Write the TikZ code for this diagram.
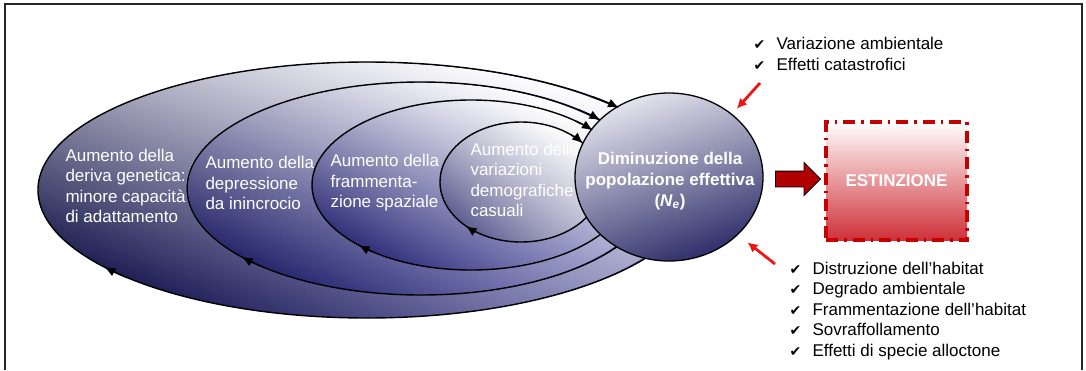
\documentclass[tikz,border=0pt]{standalone}
\usepackage{fontspec}
\setmainfont{Liberation Sans}
\newfontfamily\chkfont{DejaVu Sans}
\usetikzlibrary{shapes.geometric,shapes.arrows,arrows.meta,calc,fadings}
\definecolor{navyA}{HTML}{141448}
\definecolor{navyB}{HTML}{1C1C62}
\definecolor{navyC}{HTML}{262672}
\definecolor{navyD}{HTML}{54548A}
\definecolor{midA}{HTML}{5A5AA6}
\definecolor{midB}{HTML}{5A5AA8}
\definecolor{midC}{HTML}{6060AA}
\definecolor{midD}{HTML}{9494B8}
\definecolor{ballTop}{HTML}{E4E4EE}
\definecolor{ballMid}{HTML}{8686B0}
\definecolor{ballBot}{HTML}{2E2E6A}
\definecolor{extRed}{HTML}{C40000}
\definecolor{extFill}{HTML}{CF3038}
\definecolor{arrRed}{HTML}{B00000}
\definecolor{hintRed}{HTML}{F01414}
\tikzfading[name=glow, top color=transparent!0, middle color=transparent!65, bottom color=transparent!100]
\newcommand{\chk}{\makebox[23pt][l]{\chkfont\fontsize{14}{14}\selectfont ✔}}
\tikzset{
  ring/.style 2 args={left color=#1, right color=#2, postaction={fill=white, path fading=glow, fading angle=-35}, postaction={draw=black, line width=1.4pt}},
  ringtip/.style={draw=black, line width=1.4pt, -{Latex[length=11pt,width=9pt]}},
  lbl/.style={anchor=west, align=left, text=white, font=\fontsize{17}{20.5}\selectfont},
  lst/.style={anchor=west, align=left, font=\fontsize{17}{20.5}\selectfont},
  redarr/.style={draw=hintRed, line width=2.8pt, -{Latex[length=10pt,width=10pt]}},
}
\begin{document}
\begin{tikzpicture}[x=1pt,y=1pt]
\useasboundingbox (0,0) rectangle (1086,-370);
\draw[line width=1.6pt, black!85] (5,-370) |- (1082,-4) -- (1082,-370);
\path[ring={navyA}{midA}] (367,-190) ellipse [x radius=329, y radius=128];
\path[ring={navyB}{midB}] (421,-188.5) ellipse [x radius=234, y radius=106.5];
\path[ring={navyC}{midC}] (471,-185) ellipse [x radius=159, y radius=85];
\path[ring={navyD}{midD}] (521,-182) ellipse [x radius=81, y radius=60];
\draw[ringtip] (367,-190) ++(223:329 and 128) arc[start angle=223, end angle=217, x radius=329, y radius=128];
\draw[ringtip] (421,-188.5) ++(227:234 and 106.5) arc[start angle=227, end angle=220, x radius=234, y radius=106.5];
\draw[ringtip] (471,-185) ++(232:159 and 85) arc[start angle=232, end angle=225, x radius=159, y radius=85];
\draw[ringtip] (521,-182) ++(236:81 and 60) arc[start angle=236, end angle=227, x radius=81, y radius=60];
\node[lbl] (t1) at (62,-186) {Aumento della\\deriva genetica:\\minore capacità\\di adattamento};
\node[lbl] (t2) at (202,-183) {Aumento della\\depressione\\da inincrocio};
\node[lbl] (t3) at (327,-183) {Aumento della\\frammenta-\\zione spaziale};
\node[lbl] (t4) at (467,-180) {Aumento delle\\variazioni\\demografiche\\casuali};
\node[ellipse, draw=black, line width=1.3pt, minimum width=188pt, minimum height=168pt, inner sep=0pt, top color=ballTop, middle color=ballMid, bottom color=ballBot, shading angle=20] (ne) at (669,-177) {};
\node[align=center, text=white, font=\bfseries\fontsize{17}{21}\selectfont] (net) at (670,-181) {Diminuzione della\\popolazione effettiva\\(\textit{N}\textsubscript{\textit{e}})};
\draw[ringtip] (367,-190) ++(47:329 and 128) arc[start angle=47, end angle=40, x radius=329, y radius=128];
\draw[ringtip] (421,-188.5) ++(48:234 and 106.5) arc[start angle=48, end angle=40, x radius=234, y radius=106.5];
\draw[ringtip] (471,-185) ++(49:159 and 85) arc[start angle=49, end angle=40, x radius=159, y radius=85];
\draw[ringtip] (521,-182) ++(52:81 and 60) arc[start angle=52, end angle=40, x radius=81, y radius=60];
\node[draw=extRed, line width=3.2pt, dash pattern=on 12pt off 6pt on 2.5pt off 6pt, top color=white, bottom color=extFill, minimum width=141pt, minimum height=118pt, text=white, font=\bfseries\fontsize{17}{20}\selectfont] (ext) at (896.5,-181) {ESTINZIONE};
\node[single arrow, draw=black, line width=0.8pt, fill=arrRed, minimum height=45pt, inner sep=0pt, inner ysep=7.5pt, single arrow head extend=8.5pt] (go) at ($(ne.east)!0.5!(ext.west)$) {};
\node[lst] (l1) at (750,-54) {\chk Variazione ambientale\\\chk Effetti catastrofici};
\node[lst] (l2) at (786,-311) {\chk Distruzione dell’habitat\\\chk Degrado ambientale\\\chk Frammentazione dell’habitat\\\chk Sovraffollamento\\\chk Effetti di specie alloctone};
\coordinate (r1) at (760,-83);
\coordinate (r2) at (775,-264);
\draw[redarr, shorten >=7pt] (r1) -- (ne.45);
\draw[redarr, shorten >=12pt] (r2) -- (ne.-40);
\end{tikzpicture}
\end{document}
